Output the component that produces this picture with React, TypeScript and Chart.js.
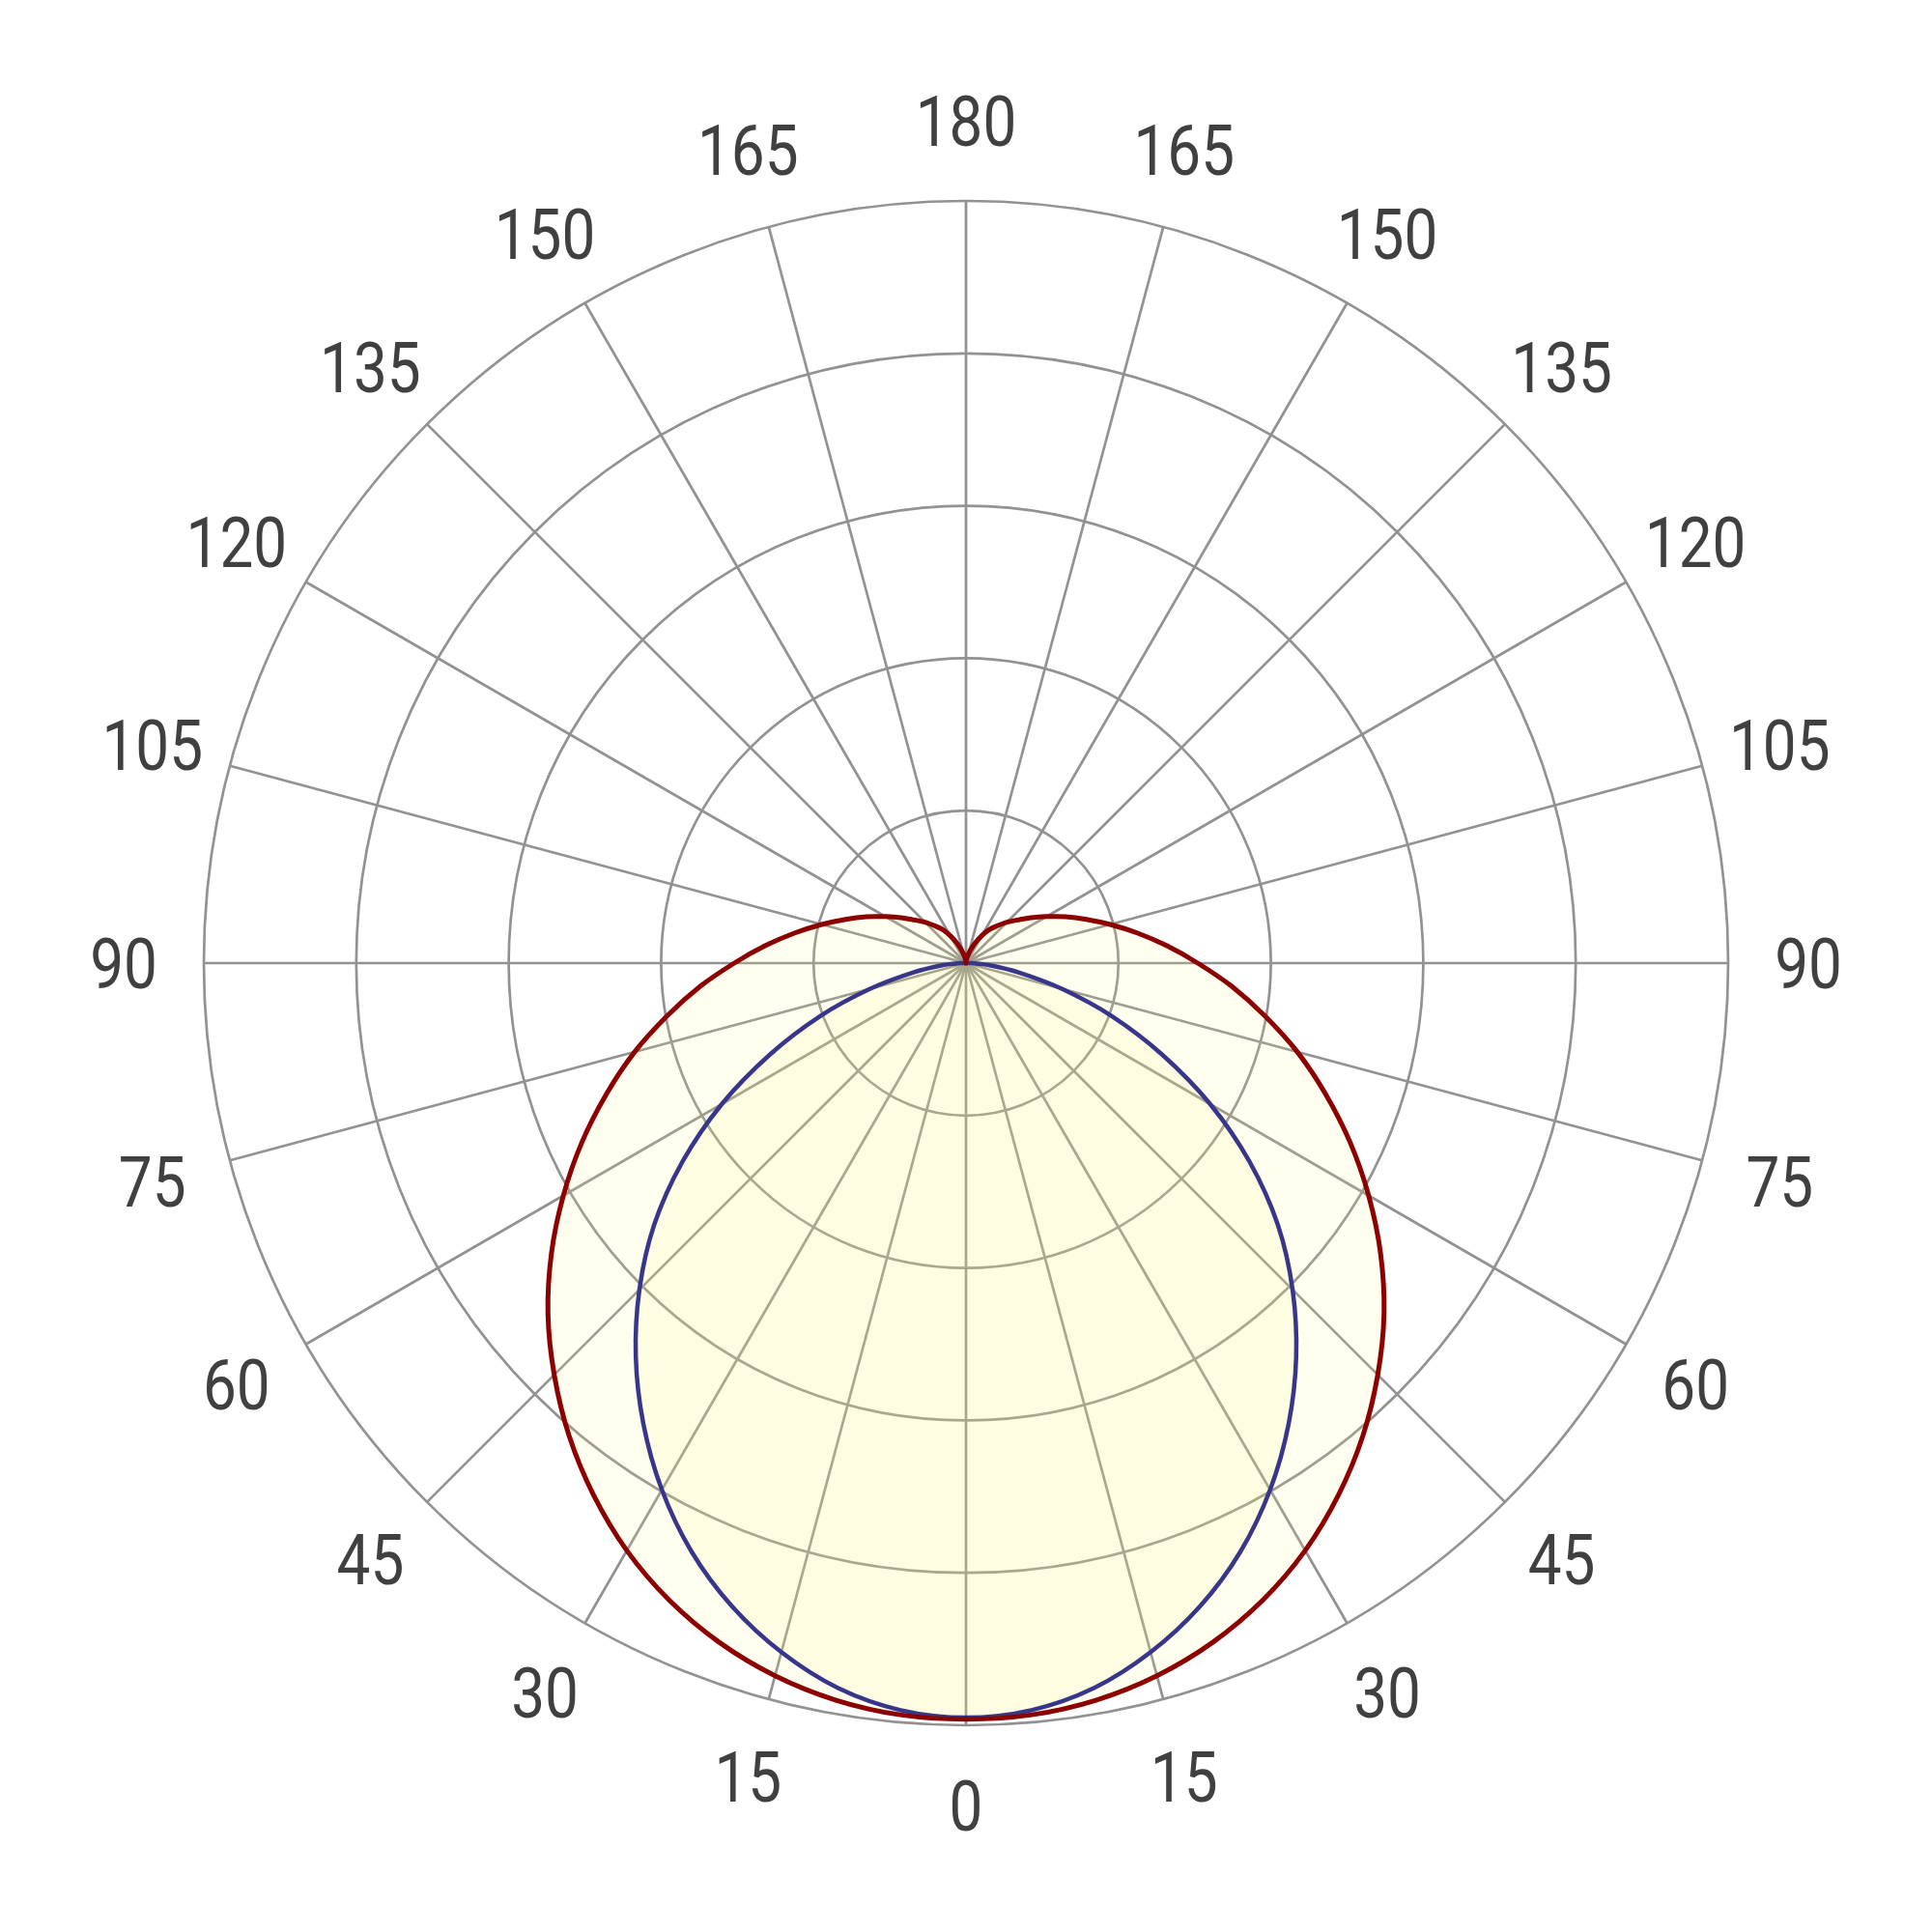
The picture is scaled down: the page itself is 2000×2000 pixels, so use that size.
import React, { useEffect, useRef } from "react";
import { Chart, registerables } from "chart.js";

Chart.register(...registerables);

// Gamma angles (degrees from nadir) at which intensities were read
const GAMMA: number[] = [
  0, 5, 10, 15, 20, 25, 30, 35, 40, 45, 50, 55, 60, 65, 70, 75, 80, 85, 90,
  95, 100, 105, 110, 115, 120, 125, 130, 135, 140, 145, 150, 155, 160, 165, 170, 175, 180,
];

// C0-C180 plane (red)
const RED_C0_C180: number[] = [
  496, 495, 491, 484, 474, 461, 445, 426, 405, 382, 358, 332, 305, 278, 251, 225, 199, 175, 152,
  132, 114, 98, 84, 72, 61, 52, 44, 38, 32, 27, 21, 15, 10, 6, 3, 1, 0,
];

// C90-C270 plane (blue)
const BLUE_C90_C270: number[] = [
  495, 492, 483, 468, 449, 426, 399, 369, 337, 303, 267, 227, 185, 142, 102, 65, 35, 15, 4,
  0, 0, 0, 0, 0, 0, 0, 0, 0, 0, 0, 0, 0, 0, 0, 0, 0, 0,
];

// Labelled gamma ticks (every 15 degrees)
const GAMMA_TICKS: number[] = [0, 15, 30, 45, 60, 75, 90, 105, 120, 135, 150, 165, 180];

const SCALE_MAX = 500;
const SCALE_STEP = 100;

const FONT_FAMILY = 'Roboto, "Liberation Sans", sans-serif';
const GRID_COLOR = "#929292";
const LABEL_COLOR = "#404040";

// Full 360° sweep: left half uses gamma 0..180, right half mirrors back down
const sweepIdx: number[] = [];
for (let i = 0; i < GAMMA.length; i++) sweepIdx.push(i);
for (let i = GAMMA.length - 2; i >= 1; i--) sweepIdx.push(i);

const sweepLabels = sweepIdx.map((i) => String(GAMMA[i]));
const redSweep = sweepIdx.map((i) => RED_C0_C180[i]);
const blueSweep = sweepIdx.map((i) => BLUE_C90_C270[i]);
const isMajor = (index: number) => GAMMA_TICKS.includes(GAMMA[sweepIdx[index]]);

const gammaLabelPlugin = {
  id: "gammaLabels",
  afterDraw(chart: any) {
    const scale = chart.scales.r;
    const ctx = chart.ctx;
    ctx.save();
    ctx.font = `73px ${FONT_FAMILY}`;
    ctx.fillStyle = LABEL_COLOR;
    ctx.textAlign = "center";
    ctx.textBaseline = "alphabetic";
    (chart.data.labels as string[]).forEach((lab, i) => {
      if (!isMajor(i)) return;
      const p = scale.getPointPosition(i, scale.drawingArea + 83);
      ctx.save();
      ctx.translate(p.x, p.y);
      ctx.scale(0.85, 1);
      ctx.fillText(lab, 0, 26);
      ctx.restore();
    });
    ctx.restore();
  },
};

export default function App() {
  const canvasRef = useRef<HTMLCanvasElement | null>(null);

  useEffect(() => {
    document.body.style.margin = "0";
    const canvas = canvasRef.current;
    if (!canvas) return;
    const chart = new Chart(canvas, {
      type: "radar",
      data: {
        labels: sweepLabels,
        datasets: [
          {
            label: "C0-C180",
            data: redSweep,
            borderColor: "#8c0000",
            borderWidth: 5,
            backgroundColor: "rgba(255, 245, 120, 0.12)",
            fill: true,
            pointRadius: 0,
            tension: 0.35,
          },
          {
            label: "C90-C270",
            data: blueSweep,
            borderColor: "#1c1c8c",
            borderWidth: 4.5,
            backgroundColor: "rgba(255, 245, 120, 0.12)",
            fill: true,
            pointRadius: 0,
            tension: 0.35,
          },
        ],
      },
      options: {
        responsive: false,
        maintainAspectRatio: false,
        devicePixelRatio: 1,
        animation: false,
        layout: { padding: { left: 211, right: 211, top: 208, bottom: 214 } },
        plugins: {
          legend: { display: false },
          tooltip: { enabled: false },
        },
        elements: { line: { borderJoinStyle: "round" } },
        scales: {
          r: {
            min: 0,
            max: SCALE_MAX,
            startAngle: 180,
            ticks: { display: false, stepSize: SCALE_STEP },
            grid: { circular: true, color: GRID_COLOR, lineWidth: 2.7 },
            angleLines: {
              display: true,
              lineWidth: 2.7,
              color: (ctx: any) => (isMajor(ctx.index) ? GRID_COLOR : "rgba(0,0,0,0)"),
            },
            pointLabels: { display: false },
          },
        },
      } as any,
      plugins: [gammaLabelPlugin],
    });
    return () => chart.destroy();
  }, []);

  return (
    <div style={{ position: "absolute", left: 0, top: 0, width: 2000, height: 2000, background: "#ffffff" }}>
      <canvas ref={canvasRef} width={2000} height={2000} style={{ width: 2000, height: 2000, display: "block" }} />
    </div>
  );
}
